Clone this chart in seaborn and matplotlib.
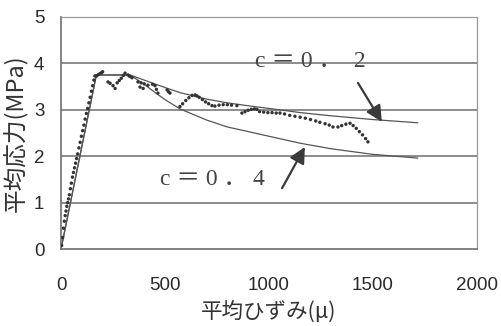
import matplotlib
matplotlib.use("Agg")
import matplotlib.pyplot as plt
import seaborn as sns
import pandas as pd

sns.set_style("white")
plt.rcParams['font.family'] = ['Liberation Sans', 'Noto Sans CJK JP', 'DejaVu Sans']

# measured data (strain in micro, stress in MPa)
meas_strain = [3, 8, 12, 16, 20, 24, 28, 32, 36, 40, 45, 50, 55, 60, 65, 70, 75, 80, 86, 92, 98, 104,
               110, 116, 122, 128, 134, 140, 146, 152, 158, 163,
               172, 180, 188, 195, 200,
               226, 236, 250, 260,
               270, 280, 290, 300, 308,
               322, 330, 341,
               370, 385, 400, 418, 380, 395,
               440, 452, 459, 466,
               510, 517, 524,
               572, 585, 600, 615, 630, 645, 654,
               665, 680, 695, 710, 726,
               740, 760, 780, 800, 820, 846,
               870, 885, 900, 915, 930, 942,
               955, 975, 995, 1015, 1035, 1053,
               1075, 1100, 1125, 1150, 1175, 1200, 1225, 1245, 1270, 1290, 1308,
               1332, 1350, 1370, 1390,
               1405, 1420, 1435, 1450, 1465, 1476]
meas_stress = [0.08, 0.25, 0.45, 0.6, 0.72, 0.82, 0.92, 1.0, 1.08, 1.17, 1.3, 1.42, 1.55, 1.65, 1.75, 1.85, 1.95, 2.05, 2.18, 2.3, 2.43, 2.55,
               2.67, 2.8, 2.92, 3.03, 3.15, 3.27, 3.4, 3.52, 3.64, 3.73,
               3.73, 3.76, 3.78, 3.8, 3.82,
               3.6, 3.57, 3.52, 3.46,
               3.58, 3.63, 3.68, 3.74, 3.79,
               3.75, 3.72, 3.69,
               3.6, 3.58, 3.56, 3.53, 3.49, 3.46,
               3.55, 3.52, 3.44, 3.36,
               3.43, 3.39, 3.36,
               3.07, 3.13, 3.2, 3.26, 3.31, 3.32, 3.3,
               3.27, 3.22, 3.17, 3.13, 3.09,
               3.08, 3.1, 3.11, 3.11, 3.1, 3.09,
               2.93, 2.96, 2.99, 3.01, 3.02, 3.01,
               2.96, 2.95, 2.94, 2.94, 2.93, 2.93,
               2.91, 2.88, 2.86, 2.84, 2.82, 2.79, 2.76, 2.73, 2.7, 2.67, 2.63,
               2.63, 2.66, 2.69, 2.71,
               2.66, 2.6, 2.53, 2.46, 2.38, 2.31]

# model curves
model_strain = [0, 170, 332, 400, 450, 500, 572, 700, 800, 911, 1000, 1150, 1300, 1500, 1716]
stress_c02 = [0, 3.75, 3.75, 3.64, 3.56, 3.48, 3.37, 3.23, 3.15, 3.08, 3.03, 2.94, 2.87, 2.79, 2.72]
stress_c04 = [0, 3.75, 3.75, 3.55, 3.38, 3.22, 3.02, 2.78, 2.63, 2.52, 2.43, 2.28, 2.16, 2.04, 1.96]

x_ticks = [0, 500, 1000, 1500, 2000]
y_ticks = [0, 1, 2, 3, 4, 5]

fig = plt.figure(figsize=(5.01, 3.26), dpi=100)
ax = fig.add_axes([0.1218, 0.236, 0.830, 0.712])

for yv in [1, 2, 3, 4]:
    ax.axhline(yv, color='#6e6e6e', lw=1.1, zorder=0)

df_m = pd.DataFrame({'strain': model_strain, 'c02': stress_c02, 'c04': stress_c04})
sns.lineplot(data=df_m, x='strain', y='c02', ax=ax, color='#555555', lw=0.9, sort=False, zorder=2)
sns.lineplot(data=df_m, x='strain', y='c04', ax=ax, color='#555555', lw=0.9, sort=False, zorder=2)

df_d = pd.DataFrame({'strain': meas_strain, 'stress': meas_stress})
sns.scatterplot(data=df_d, x='strain', y='stress', ax=ax, color='#333333', s=6, marker='o',
                edgecolor='none', zorder=3)

ax.set_xlim(0, 2000)
ax.set_ylim(0, 5)
ax.set_xticks(x_ticks)
ax.set_yticks(y_ticks)
ax.tick_params(axis='x', direction='in', length=5, width=1, color='#777777', pad=20,
               labelsize=13.5, labelcolor='#2a2a2a')
ax.tick_params(axis='y', length=0, pad=12, labelsize=13.5, labelcolor='#2a2a2a')

for s in ['left', 'bottom']:
    ax.spines[s].set_color('#6e6e6e')
    ax.spines[s].set_linewidth(1.2)
for s in ['top', 'right']:
    ax.spines[s].set_color('#9a9a9a')
    ax.spines[s].set_linewidth(0.9)
    ax.spines[s].set_linestyle((0, (1, 1)))

ax.set_xlabel('平均ひずみ(μ)', fontsize=15.5, color='#333333', labelpad=5,
              family=['Noto Sans CJK JP', 'DejaVu Sans'])
ax.set_ylabel('平均応力(MPa)', fontsize=17, color='#333333', labelpad=4,
              family=['Noto Sans CJK JP', 'DejaVu Sans'])

tfam = ['Liberation Serif', 'Noto Sans CJK JP', 'DejaVu Sans']
ax.text(933, 4.05, 'c ＝ 0 ．  2', fontsize=17, color='#444444', family=tfam, va='center', ha='left')
ax.text(476, 1.49, 'c ＝ 0 ． 4', fontsize=17, color='#444444', family=tfam, va='center', ha='left')

ax.annotate('', xy=(1543, 2.74), xytext=(1428, 3.58),
            arrowprops=dict(arrowstyle='-|>', mutation_scale=24, lw=1.6, color='#3a3a3a',
                            shrinkA=0, shrinkB=0))
ax.annotate('', xy=(1173, 2.2), xytext=(1063, 1.31),
            arrowprops=dict(arrowstyle='-|>', mutation_scale=24, lw=1.6, color='#3a3a3a',
                            shrinkA=0, shrinkB=0))

fig.savefig('out.png', dpi=100)
